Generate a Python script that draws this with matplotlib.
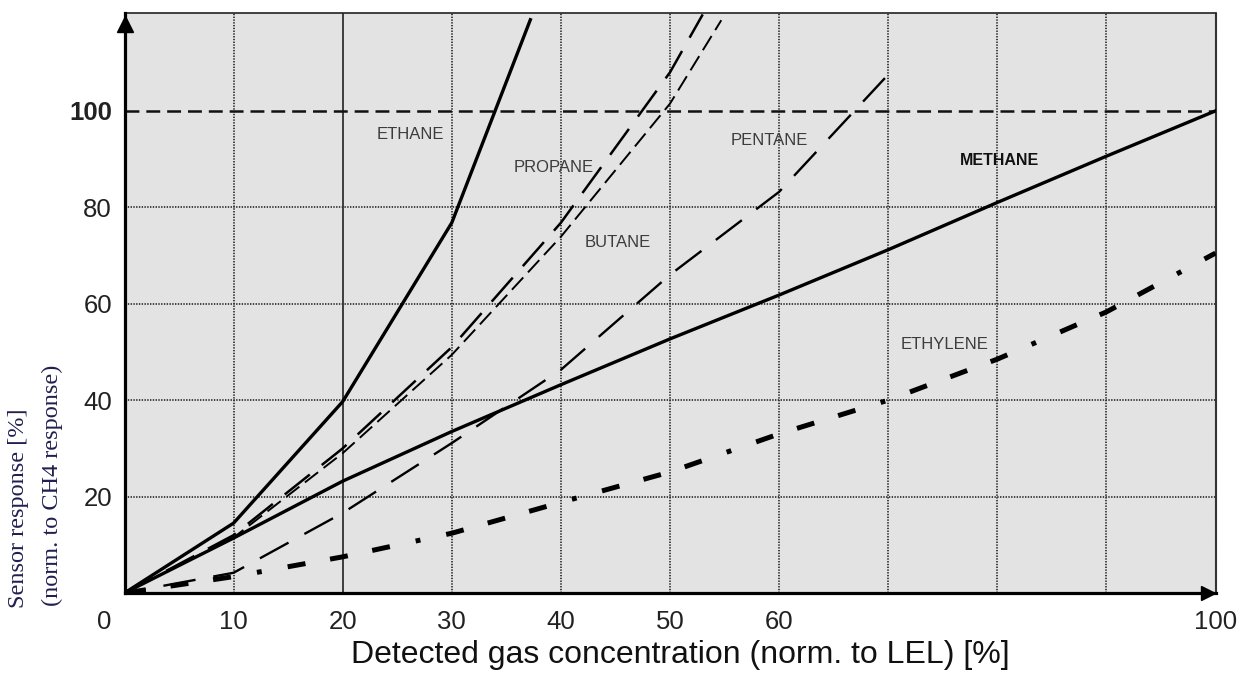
import matplotlib
matplotlib.use("Agg")
import matplotlib.pyplot as plt

plt.rcParams.update({"font.family": ["Liberation Sans", "DejaVu Sans"],
                     "lines.scale_dashes": False})

# sensor response curves (x = % LEL, y = % of CH4 response)
ethane_x = [0, 10, 20, 30, 37.2]
ethane_y = [0, 14.5, 39.7, 76.8, 118.9]
methane_x = [0, 10, 20, 30, 40, 50, 60, 70, 80, 90, 100]
methane_y = [0, 11.4, 23.2, 33.5, 43.2, 52.7, 61.8, 71.2, 81.0, 90.6, 100]
propane_x = [0, 10, 20, 30, 40, 50, 53]
propane_y = [0, 12, 30, 51, 76.8, 108, 120]
butane_x = [0, 10, 20, 30, 40, 50, 54.7]
butane_y = [0, 11.5, 29, 49.4, 73.9, 101.5, 118.8]
pentane_x = [0, 10, 20, 30, 40, 50, 60, 69.7]
pentane_y = [0, 4.2, 16.6, 31.1, 46.3, 66, 83.2, 106.8]
ethylene_x = [0, 10, 20, 30, 40, 50, 60, 70, 80, 90, 100]
ethylene_y = [0, 3.4, 7.5, 12.4, 18.8, 25.1, 33, 40, 48.5, 58.3, 70.5]

xtick_vals = [10, 20, 30, 40, 50, 60, 100]
ytick_vals = [20, 40, 60, 80, 100]

GRID = "#333333"
TXT = "#3c3c3c"

fig = plt.figure(figsize=(12.44, 6.8), dpi=100)
ax = fig.add_axes([124.5 / 1244, 87 / 680, 1091 / 1244, 580 / 680])
ax.set_facecolor("#e3e3e3")
ax.set_xlim(0, 100)
ax.set_ylim(0, 120.3)

# grid: dotted, except the solid line at 20 and the dashed 100 line
for gx in range(10, 100, 10):
    if gx == 20:
        ax.axvline(gx, color="#111", lw=1.1, zorder=1)
    else:
        ax.axvline(gx, color=GRID, lw=1.3, ls=(0, (1, 1)), zorder=1)
for gy in (20, 40, 60, 80):
    ax.axhline(gy, color=GRID, lw=1.3, ls=(0, (1, 1)), zorder=1)
ax.axhline(100, color="#111", lw=1.8, ls=(0, (10, 5)), zorder=1)

ax.plot(ethane_x, ethane_y, color="k", lw=2.4, zorder=3)
ax.plot(methane_x, methane_y, color="k", lw=2.4, zorder=3)
ax.plot(propane_x, propane_y, color="k", lw=1.8, ls=(0, (23, 11)), zorder=3)
ax.plot(butane_x, butane_y, color="k", lw=1.4, ls=(0, (12, 5)), zorder=3)
ax.plot(pentane_x, pentane_y, color="k", lw=1.7, ls=(8, (23.5, 13)), zorder=3)
ax.plot(ethylene_x, ethylene_y, color="k", lw=3.6, solid_capstyle="butt",
        ls=(20, (3.5, 19, 13, 18, 13, 18, 13, 19)), zorder=3)

lab = dict(fontsize=12, color=TXT, ha="center", va="center", zorder=4)
ax.text(26.2, 95.2, "ETHANE", **lab)
ax.text(39.3, 88.2, "PROPANE", **lab)
ax.text(45.2, 72.8, "BUTANE", **lab)
ax.text(59.1, 93.9, "PENTANE", **lab)
ax.text(75.2, 51.5, "ETHYLENE", **lab)
ax.text(80.2, 89.8, "METHANE", fontsize=11.5, fontweight="bold", color="#111",
        ha="center", va="center", zorder=4)

# frame: heavy left/bottom axes with arrows, thin top, dotted right
for s in ("left", "bottom"):
    ax.spines[s].set_linewidth(2.3)
    ax.spines[s].set_color("k")
    ax.spines[s].set_zorder(5)
ax.spines["top"].set_linewidth(1.2)
ax.spines["top"].set_color("#222")
ax.spines["right"].set_linestyle((0, (1, 1)))
ax.spines["right"].set_color(GRID)
ax.spines["right"].set_linewidth(1.5)
ax.plot([0], [118.0], marker="^", ms=11, color="k", clip_on=False, zorder=6)
ax.plot([99.3], [0], marker=">", ms=10, color="k", clip_on=False, zorder=6)

ax.set_xticks(xtick_vals)
ax.set_xticklabels([str(v) for v in xtick_vals])
ax.set_yticks(ytick_vals)
ax.set_yticklabels([str(v) for v in ytick_vals])
ax.get_yticklabels()[-1].set_fontweight("bold")
ax.tick_params(length=0, labelsize=18.5, colors="#222")
ax.tick_params(axis="x", pad=12)
ax.tick_params(axis="y", pad=9)
ax.annotate("0", xy=(0, 0), xycoords=("data", "axes fraction"),
            xytext=(-14.5, -12), textcoords="offset points",
            ha="center", va="top", fontsize=18.5, color="#222")

fig.text(680 / 1244, 1 - 655 / 680, "Detected gas concentration (norm. to LEL) [%]",
         ha="center", va="center", fontsize=23, color="#111")
fig.text(19 / 1244, 1 - 608 / 680, "Sensor response [%]", rotation=90,
         ha="center", va="bottom", fontsize=17.5, color="#202050",
         family=["Liberation Serif", "DejaVu Serif"])
fig.text(52 / 1244, 1 - 606 / 680, "(norm. to CH4 response)", rotation=90,
         ha="center", va="bottom", fontsize=17.5, color="#202050",
         family=["Liberation Serif", "DejaVu Serif"])

fig.savefig("out.png", dpi=100)
